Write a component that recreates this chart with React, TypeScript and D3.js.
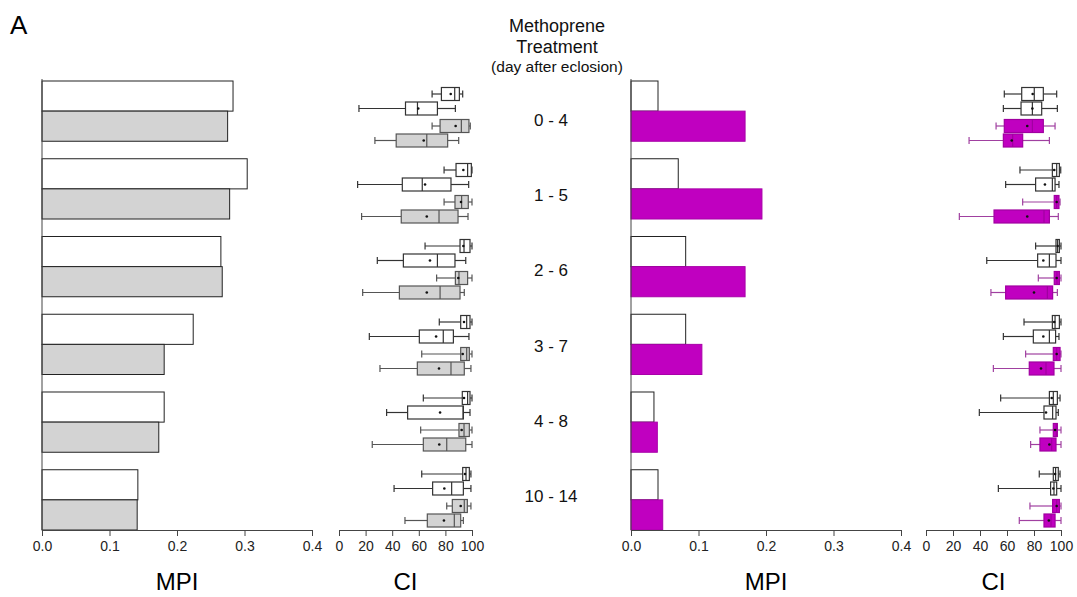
import React, { useEffect, useRef } from "react";
import * as d3 from "d3";

// treatment windows (day after eclosion)
const groups = ["0 - 4", "1 - 5", "2 - 6", "3 - 7", "4 - 8", "10 - 14"];

// MPI bars: control (white) vs treated
const mpiLeftCtrl = [0.283, 0.304, 0.265, 0.224, 0.181, 0.142];
const mpiLeftTrt = [0.275, 0.278, 0.267, 0.181, 0.173, 0.141];
const mpiRightCtrl = [0.040, 0.070, 0.081, 0.081, 0.034, 0.040];
const mpiRightTrt = [0.169, 0.194, 0.169, 0.105, 0.039, 0.047];

// CI boxes: [whiskerLow, q1, median, q3, whiskerHigh, mean], 4 rows per group
const ciLeft = [
  [[70, 77, 87, 90.5, 93, 84], [15, 50, 59, 74, 87.5, 59.6], [70, 76, 92, 97.7, 98.7, 87.7], [27, 43, 66, 81.7, 90, 63.7]],
  [[79, 88, 96.7, 99.5, 100, 93.5], [14, 47.6, 62.6, 84.2, 97.5, 64.7], [79, 87.2, 92.2, 97.2, 100, 91.7], [17, 46.8, 75.2, 89.5, 97, 66]],
  [[64.7, 91, 94, 98.5, 100, 93.5], [28.8, 48.4, 74, 87.2, 95.3, 68.4], [73.4, 87.5, 90.2, 96.7, 100, 89.7], [17.8, 45.4, 76, 91, 94.2, 66]],
  [[75.4, 91.5, 96, 98.5, 100, 94], [22.8, 60.4, 78.4, 86, 97.7, 73], [62.2, 91.5, 96, 98, 100, 93], [30.8, 58.9, 84.2, 94.2, 99.2, 75.2]],
  [[63.4, 92.7, 96.7, 98.5, 100, 94], [35.8, 51.6, 93.3, 93.5, 98.5, 76], [61.4, 90.2, 94, 98, 100, 92.2], [25, 63.4, 81, 95.3, 100, 75.4]],
  [[62.2, 93, 95.5, 98, 99.2, 94.7], [41.4, 70.4, 84.7, 93.5, 99.2, 79.2], [81, 85.2, 94.2, 96.5, 99.2, 91.5], [49.6, 66.4, 86.7, 91.5, 93.5, 78.9]],
];
const ciRight = [
  [[58, 70.9, 80.2, 86.9, 96.8, 79], [57.3, 70.4, 78.8, 85.7, 97.3, 78.8], [51.9, 58, 78.8, 86.9, 95.6, 75], [31.9, 57.3, 64.2, 71.6, 91.4, 63.5]],
  [[69.6, 93.6, 96.8, 98.8, 99.8, 95], [59, 81.2, 93.6, 95.6, 98.5, 88.1], [71.6, 95, 96.8, 98.5, 99.3, 96.8], [24.7, 50.4, 87.4, 91.4, 98, 75]],
  [[81.2, 96.3, 97.5, 98.8, 100, 97.5], [45, 82.7, 91.4, 96.3, 100, 86.9], [83.2, 95, 97, 98.8, 100, 96.8], [48.1, 59, 89.9, 93.8, 97.3, 80]],
  [[72.6, 93.6, 95.6, 98.8, 100, 95], [57.3, 79.5, 91.4, 96, 98.5, 86.9], [73.8, 94.3, 96.8, 99.3, 100, 96.8], [49.9, 76.5, 88.9, 94.8, 100, 85.2]],
  [[55.3, 91.4, 94.3, 97.3, 99.3, 93.1], [39.5, 87.4, 93.8, 96.3, 98, 88.9], [84.4, 94.3, 96.5, 97.3, 100, 95.6], [77.5, 84.4, 93.1, 96.3, 100, 91.4]],
  [[83.9, 94.3, 96, 98, 99.3, 95.6], [53.6, 92.3, 94.8, 96.8, 100, 94.3], [77, 93.8, 96.8, 98.8, 100, 96.8], [69.1, 87.4, 92.6, 95.6, 100, 91]],
];

const mpiTicks = [0, 0.1, 0.2, 0.3, 0.4];
const ciTicks = [0, 20, 40, 60, 80, 100];

const FONT = "'Liberation Sans', Arial, sans-serif";
const GRAY = "#d3d3d3";
const MAGENTA = "#c000c0";
const AXIS_Y = 530;

// bars
const y = d3.scaleBand().domain(groups).range([81, AXIS_Y]).paddingInner(0.225).paddingOuter(0);
const barY = d3.scaleBand().domain(["ctrl", "trt"]).range([0, y.bandwidth()]);
// box plots sit on a slightly tighter grid than the bars
const ciGroupY = d3.scalePoint().domain(groups).range([94, 474]);
const ciPairY = d3.scalePoint().domain(["ctrl", "trt"]).range([0, 32]);
const ciRowY = d3.scalePoint().domain(["a", "b"]).range([0, 14.5]);
// center labels
const labelY = d3.scalePoint().domain(groups).range([126, 502]);

const xMpiL = d3.scaleLinear().domain([0, 0.4]).range([42, 312]);
const xCiL = d3.scaleLinear().domain([0, 100]).range([339, 472]);
const xMpiR = d3.scaleLinear().domain([0, 0.4]).range([631, 901]);
const xCiR = d3.scaleLinear().domain([0, 100]).range([926, 1061]);

function Axis({ scale, ticks, fmt }: { scale: any; ticks: number[]; fmt: (v: number) => string }) {
  const ref = useRef<SVGGElement>(null);
  useEffect(() => {
    const g = d3.select(ref.current);
    g.call(d3.axisBottom(scale).tickValues(ticks).tickFormat(fmt as any).tickSizeOuter(0).tickSize(6).tickPadding(5));
    g.select(".domain").attr("stroke", "#444");
    g.selectAll(".tick line").attr("stroke", "#444");
    g.selectAll(".tick text").attr("font-size", 14).attr("font-family", FONT).attr("fill", "#222");
  }, []);
  return <g ref={ref} transform={`translate(0,${AXIS_Y})`} />;
}

function MpiPanel({ x, ctrl, trt, color }: { x: any; ctrl: number[]; trt: number[]; color: string }) {
  return (
    <g>
      {groups.map((gname, i) => (
        <g key={gname} transform={`translate(0,${y(gname)})`}>
          <rect x={x(0)} y={barY("ctrl")} width={x(ctrl[i]) - x(0)} height={barY.bandwidth()}
            fill="#fff" stroke="#222" strokeWidth={1} />
          <rect x={x(0)} y={barY("trt")} width={x(trt[i]) - x(0)} height={barY.bandwidth()}
            fill={color} stroke={color === MAGENTA ? "#a800a8" : "#222"} strokeWidth={1} />
        </g>
      ))}
      <line x1={x(0)} x2={x(0)} y1={79} y2={AXIS_Y} stroke="#444" />
      <Axis scale={x} ticks={mpiTicks} fmt={d3.format(".1f")} />
      <text x={(x.range()[0] + x.range()[1]) / 2} y={590} textAnchor="middle" fontSize={24} fontFamily={FONT}>MPI</text>
    </g>
  );
}

function BoxRow({ x, cy, d, fill, stroke, whisker }: { x: any; cy: number; d: number[]; fill: string; stroke: string; whisker: string }) {
  const [lo, q1, med, q3, hi, mean] = d;
  const h = 13;
  const cap = 3.5;
  return (
    <g strokeWidth={1.2}>
      <g stroke={whisker}>
        <line x1={x(lo)} x2={x(q1)} y1={cy} y2={cy} />
        <line x1={x(q3)} x2={x(hi)} y1={cy} y2={cy} />
        <line x1={x(lo)} x2={x(lo)} y1={cy - cap} y2={cy + cap} />
        <line x1={x(hi)} x2={x(hi)} y1={cy - cap} y2={cy + cap} />
      </g>
      <g stroke={stroke}>
        <rect x={x(q1)} y={cy - h / 2} width={Math.max(1, x(q3) - x(q1))} height={h} fill={fill} />
        <line x1={x(med)} x2={x(med)} y1={cy - h / 2} y2={cy + h / 2} />
      </g>
      <circle cx={x(mean)} cy={cy} r={1.3} fill="#111" />
    </g>
  );
}

function CiPanel({ x, data, fill, stroke, whisker }: { x: any; data: number[][][]; fill: string; stroke: string; whisker: string }) {
  return (
    <g>
      {groups.map((gname, i) => (
        <g key={gname} transform={`translate(0,${ciGroupY(gname)})`}>
          {data[i].map((d, j) => {
            const pair = j < 2 ? "ctrl" : "trt";
            const cy = (ciPairY(pair) as number) + (ciRowY(j % 2 === 0 ? "a" : "b") as number);
            return (
              <BoxRow key={j} x={x} cy={cy} d={d}
                fill={j < 2 ? "#fff" : fill} stroke={j < 2 ? "#333" : stroke} whisker={j < 2 ? "#333" : whisker} />
            );
          })}
        </g>
      ))}
      <Axis scale={x} ticks={ciTicks} fmt={d3.format("d")} />
      <text x={(x.range()[0] + x.range()[1]) / 2} y={590} textAnchor="middle" fontSize={24} fontFamily={FONT}>CI</text>
    </g>
  );
}

export default function App() {
  return (
    <svg width={1077} height={597} style={{ position: "absolute", left: 0, top: 0, background: "#fff" }}>
      <text x={10} y={34} fontSize={26} fontFamily={FONT}>A</text>
      <g fontFamily={FONT} textAnchor="middle" fill="#111">
        <text x={557} y={32} fontSize={18}>Methoprene</text>
        <text x={557} y={53} fontSize={18}>Treatment</text>
        <text x={557} y={72} fontSize={15.5}>(day after eclosion)</text>
        {groups.map((gname) => (
          <text key={gname} x={551} y={labelY(gname)} fontSize={17}>{gname}</text>
        ))}
      </g>
      <MpiPanel x={xMpiL} ctrl={mpiLeftCtrl} trt={mpiLeftTrt} color={GRAY} />
      <CiPanel x={xCiL} data={ciLeft} fill={GRAY} stroke="#555" whisker="#555" />
      <MpiPanel x={xMpiR} ctrl={mpiRightCtrl} trt={mpiRightTrt} color={MAGENTA} />
      <CiPanel x={xCiR} data={ciRight} fill={MAGENTA} stroke="#a000a0" whisker="#a040a0" />
    </svg>
  );
}
